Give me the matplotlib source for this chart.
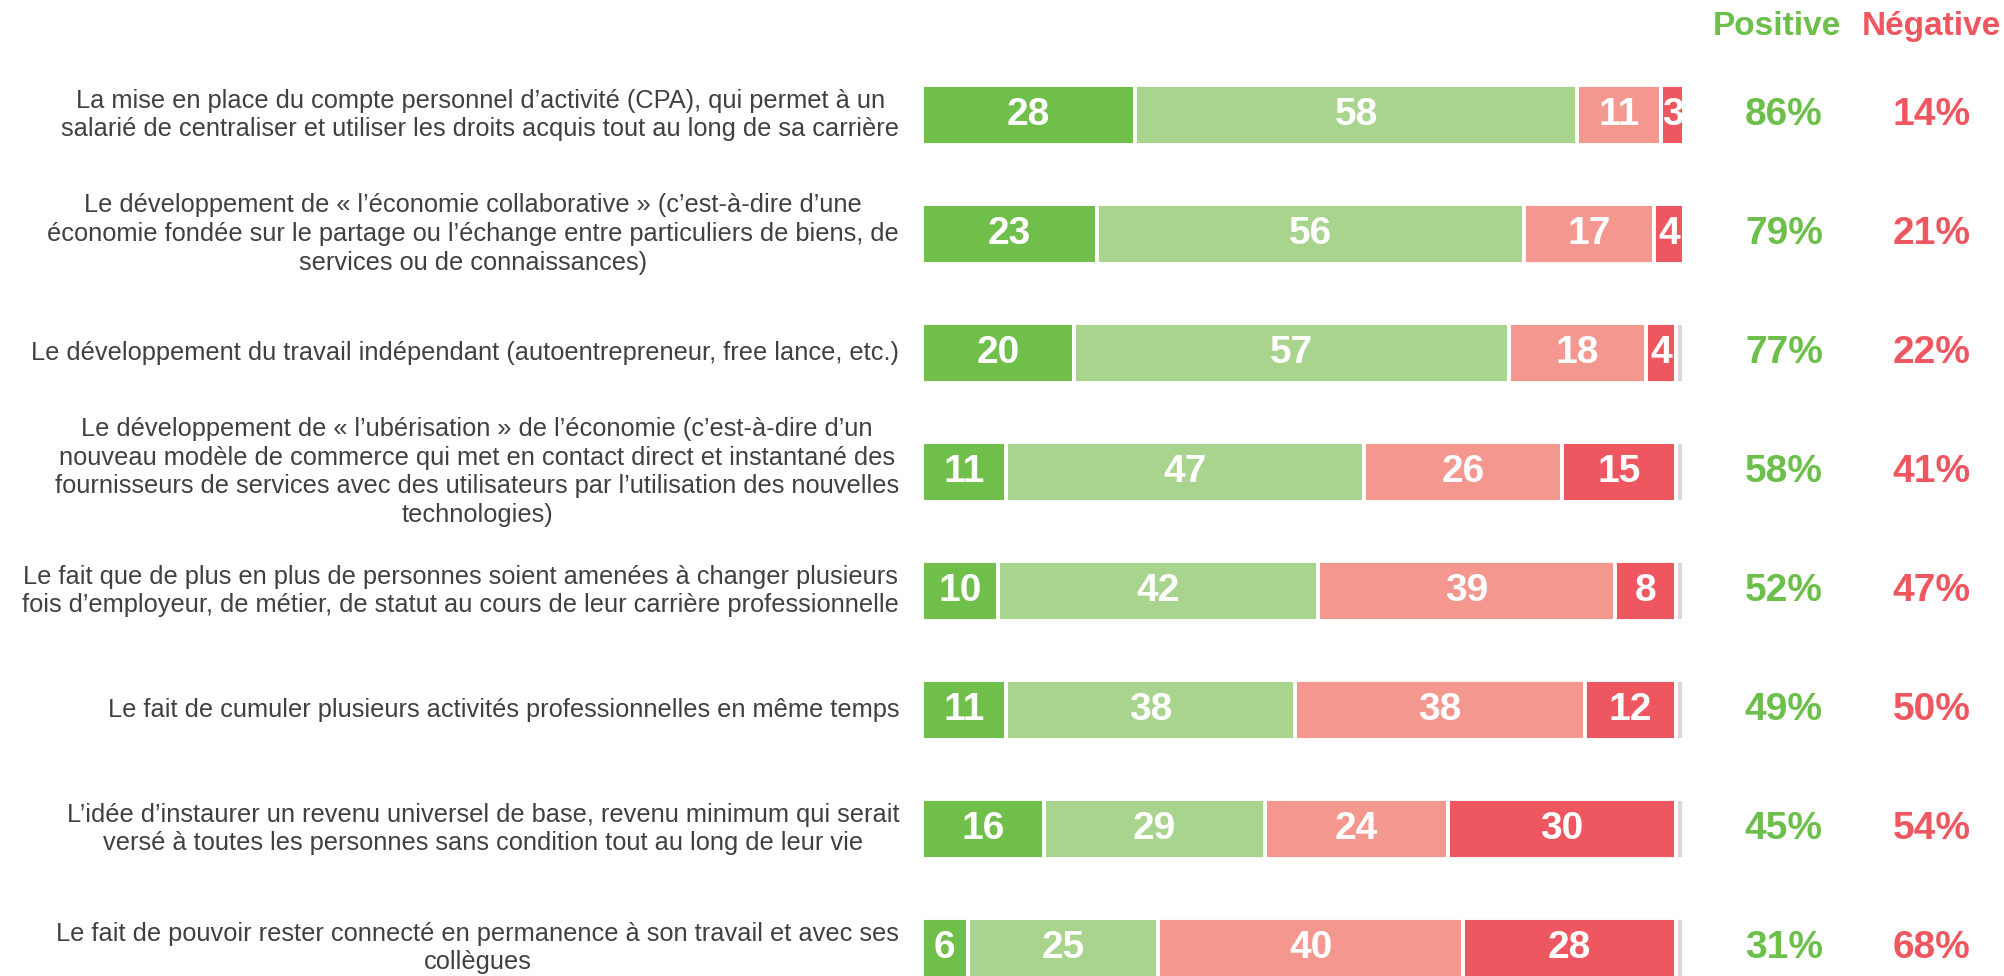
import matplotlib
matplotlib.use("Agg")
import matplotlib.pyplot as plt
import numpy as np

plt.rcParams['font.family'] = ['Liberation Sans', 'DejaVu Sans']

labels = [
    "La mise en place du compte personnel d\u2019activit\u00e9 (CPA), qui permet \u00e0 un\nsalari\u00e9 de centraliser et utiliser les droits acquis tout au long de sa carri\u00e8re",
    "Le d\u00e9veloppement de \u00ab l\u2019\u00e9conomie collaborative \u00bb (c\u2019est-\u00e0-dire d\u2019une\n\u00e9conomie fond\u00e9e sur le partage ou l\u2019\u00e9change entre particuliers de biens, de\nservices ou de connaissances)",
    "Le d\u00e9veloppement du travail ind\u00e9pendant (autoentrepreneur, free lance, etc.)",
    "Le d\u00e9veloppement de \u00ab l\u2019ub\u00e9risation \u00bb de l\u2019\u00e9conomie (c\u2019est-\u00e0-dire d\u2019un\nnouveau mod\u00e8le de commerce qui met en contact direct et instantan\u00e9 des\nfournisseurs de services avec des utilisateurs par l\u2019utilisation des nouvelles\ntechnologies)",
    "Le fait que de plus en plus de personnes soient amen\u00e9es \u00e0 changer plusieurs\nfois d\u2019employeur, de m\u00e9tier, de statut au cours de leur carri\u00e8re professionnelle",
    "Le fait de cumuler plusieurs activit\u00e9s professionnelles en m\u00eame temps",
    "L\u2019id\u00e9e d\u2019instaurer un revenu universel de base, revenu minimum qui serait\nvers\u00e9 \u00e0 toutes les personnes sans condition tout au long de leur vie",
    "Le fait de pouvoir rester connect\u00e9 en permanence \u00e0 son travail et avec ses\ncoll\u00e8gues",
]

tres_positive = [28, 23, 20, 11, 10, 11, 16, 6]
plutot_positive = [58, 56, 57, 47, 42, 38, 29, 25]
plutot_negative = [11, 17, 18, 26, 39, 38, 24, 40]
tres_negative = [3, 4, 4, 15, 8, 12, 30, 28]
nsp = [0, 0, 1, 1, 1, 1, 1, 1]

total_positive = [86, 79, 77, 58, 52, 49, 45, 31]
total_negative = [14, 21, 22, 41, 47, 50, 54, 68]

colors = ["#70BF4B", "#A9D48D", "#F4978E", "#EF5760", "#D9D9D9"]
green_txt = "#6CBF4A"
red_txt = "#EF5760"

W, H = 2004, 976
fig = plt.figure(figsize=(W / 100, H / 100), dpi=100)
# axes: x 0..100 maps to pixels 922..1684
ax = fig.add_axes([922 / W, 0, 762 / W, 1])
ax.set_xlim(0, 100)
ax.set_ylim(7.235, -0.966)
ax.axis("off")

y = np.arange(len(labels))
series = [tres_positive, plutot_positive, plutot_negative, tres_negative, nsp]
left = np.zeros(len(labels))
for vals, c in zip(series, colors):
    vals = np.array(vals, dtype=float)
    bars = ax.barh(y, vals, left=left, height=0.5, color=c,
                   edgecolor="white", linewidth=2.8)
    if c != colors[-1]:
        for b, v in zip(bars, vals):
            if v > 0:
                ax.text(b.get_x() + b.get_width() / 2, b.get_y() + b.get_height() / 2,
                        "%d" % v, ha="center", va="center", color="white",
                        fontsize=28, fontweight="bold", clip_on=False)
    left += vals

for yi, lab in zip(y, labels):
    ax.text(-3.0, yi, lab, ha="right", va="center", multialignment="center",
            fontsize=18.3, color="#404040", linespacing=1.25)

for yi, p, n in zip(y, total_positive, total_negative):
    ax.text(113.1, yi, "%d%%" % p, ha="center", va="center", color=green_txt,
            fontsize=28, fontweight="bold")
    ax.text(132.5, yi, "%d%%" % n, ha="center", va="center", color=red_txt,
            fontsize=28, fontweight="bold")

ax.text(112.2, -0.74, "Positive", ha="center", va="center", color=green_txt,
        fontsize=24, fontweight="bold")
ax.text(132.5, -0.74, "N\u00e9gative", ha="center", va="center", color=red_txt,
        fontsize=24, fontweight="bold")

fig.savefig("out.png", dpi=100, facecolor="white")
